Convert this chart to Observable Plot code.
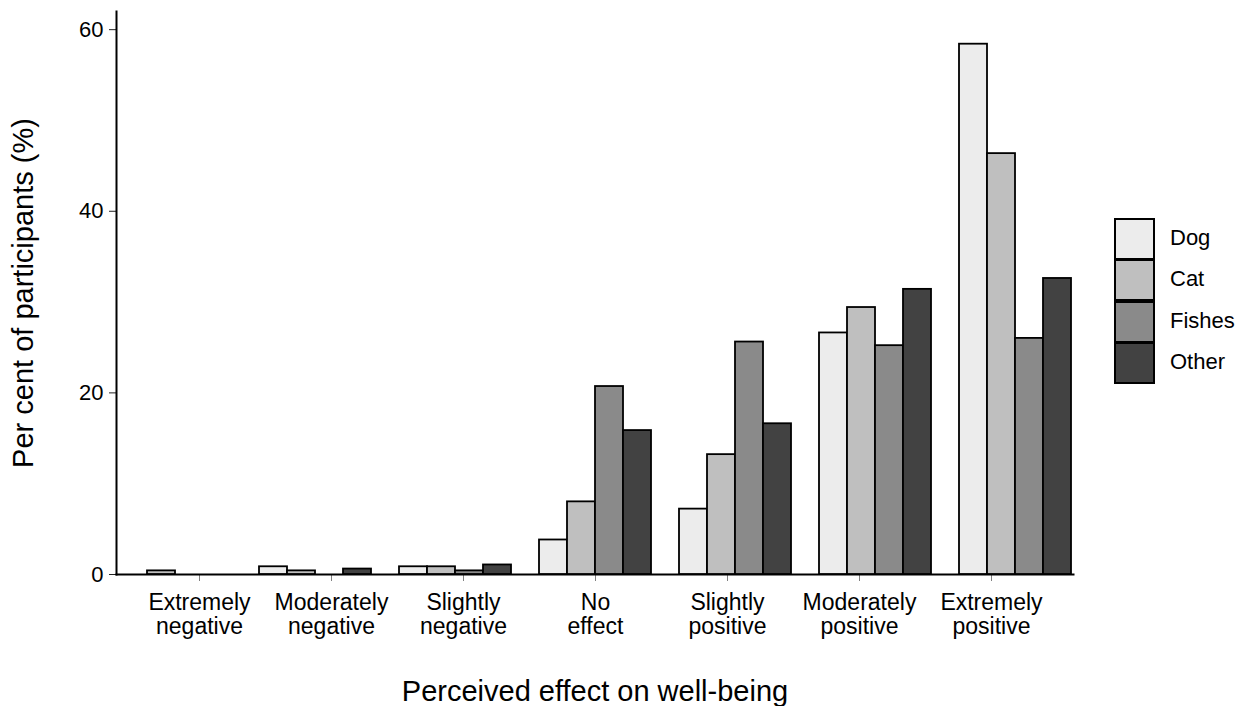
<!DOCTYPE html>
<html>
<head>
<meta charset="utf-8">
<script src="https://cdn.jsdelivr.net/npm/d3@7"></script>
<script src="https://cdn.jsdelivr.net/npm/@observablehq/plot@0.6"></script>
<style>
  html, body { margin: 0; padding: 0; background: #fff; }
  #wrap { position: relative; width: 1249px; height: 706px; font-family: "Liberation Sans", Arial, sans-serif; overflow: hidden; }
  #wrap svg { position: absolute; left: 0; top: 0; }
  #legend { position: absolute; left: 1114px; top: 217px; }
  .item { display: flex; align-items: center; height: 41.5px; }
  .sw { width: 37px; height: 38px; border: 2px solid #000; box-sizing: content-box; margin-bottom: -2px; }
  .lab { margin-left: 15px; font-size: 22px; color: #000; }
</style>
</head>
<body>
<div id="wrap"></div>
<script>
const categories = ["Extremely negative", "Moderately negative", "Slightly negative", "No effect", "Slightly positive", "Moderately positive", "Extremely positive"];
const pets = ["Dog", "Cat", "Fishes", "Other"];
const petColors = ["#ececec", "#bfbfbf", "#8a8a8a", "#424242"];
const dogValues    = [0,    0.85, 0.85, 3.8,  7.2,  26.6, 58.4];
const catValues    = [0.4,  0.4,  0.85, 8.0,  13.2, 29.4, 46.35];
const fishesValues = [0,    0,    0.4,  20.7, 25.6, 25.2, 26.0];
const otherValues  = [0,    0.6,  1.05, 15.85, 16.6, 31.4, 32.6];
const yTicks = [0, 20, 40, 60];
const yTitle = "Per cent of participants (%)";
const xTitle = "Perceived effect on well-being";

const seriesValues = [dogValues, catValues, fishesValues, otherValues];
const data = [];
categories.forEach((c, i) => pets.forEach((p, j) => data.push({category: c, pet: p, value: seriesValues[j][i]})));

const W = 1249, H = 706;
const common = {
  width: W, height: H,
  marginLeft: 116, marginRight: 176, marginTop: 11, marginBottom: 132,
  style: {fontFamily: "'Liberation Sans', Arial, sans-serif", background: "transparent"}
};

// Axes layer
const axes = Plot.plot({
  ...common,
  x: {type: "band", domain: categories, padding: 0.2},
  y: {domain: [0, 62]},
  marks: [
    Plot.axisY({ticks: yTicks, tickSize: 7, tickPadding: 6, fontSize: 22, stroke: "#222", color: "#000", label: null}),
    Plot.axisX({tickSize: 7, tickPadding: 11, fontSize: 23, lineHeight: 1.05, stroke: "#808080", fill: "#000",
      tickFormat: d => d.replace(" ", "\n"), label: null}),
    Plot.frame({anchor: "left", stroke: "#000", strokeWidth: 2}),
    Plot.frame({anchor: "bottom", stroke: "#000", strokeWidth: 2}),
    Plot.text([yTitle], {frameAnchor: "left", textAnchor: "middle", rotate: -90, dx: -104, lineAnchor: "top", fontSize: 29, fill: "#000"}),
    Plot.text([xTitle], {frameAnchor: "bottom", textAnchor: "middle", dy: 126, lineAnchor: "bottom", fontSize: 29, fill: "#000"})
  ]
});

// Bars layer
const bars = Plot.plot({
  ...common,
  fx: {domain: categories, padding: 0.2, axis: null},
  x: {domain: pets, padding: 0, axis: null},
  y: {domain: [0, 62], axis: null},
  color: {domain: pets, range: petColors},
  marks: [
    Plot.barY(data, {fx: "category", x: "pet", y: "value", fill: "pet", stroke: "#000", strokeWidth: 1.8})
  ]
});

const wrap = document.getElementById("wrap");
wrap.appendChild(axes);
wrap.appendChild(bars);

// Legend
const legend = document.createElement("div");
legend.id = "legend";
pets.forEach((p, j) => {
  const item = document.createElement("div");
  item.className = "item";
  const sw = document.createElement("div");
  sw.className = "sw";
  sw.style.background = petColors[j];
  const lab = document.createElement("span");
  lab.className = "lab";
  lab.textContent = p;
  item.appendChild(sw); item.appendChild(lab);
  legend.appendChild(item);
});
wrap.appendChild(legend);
</script>
</body>
</html>
